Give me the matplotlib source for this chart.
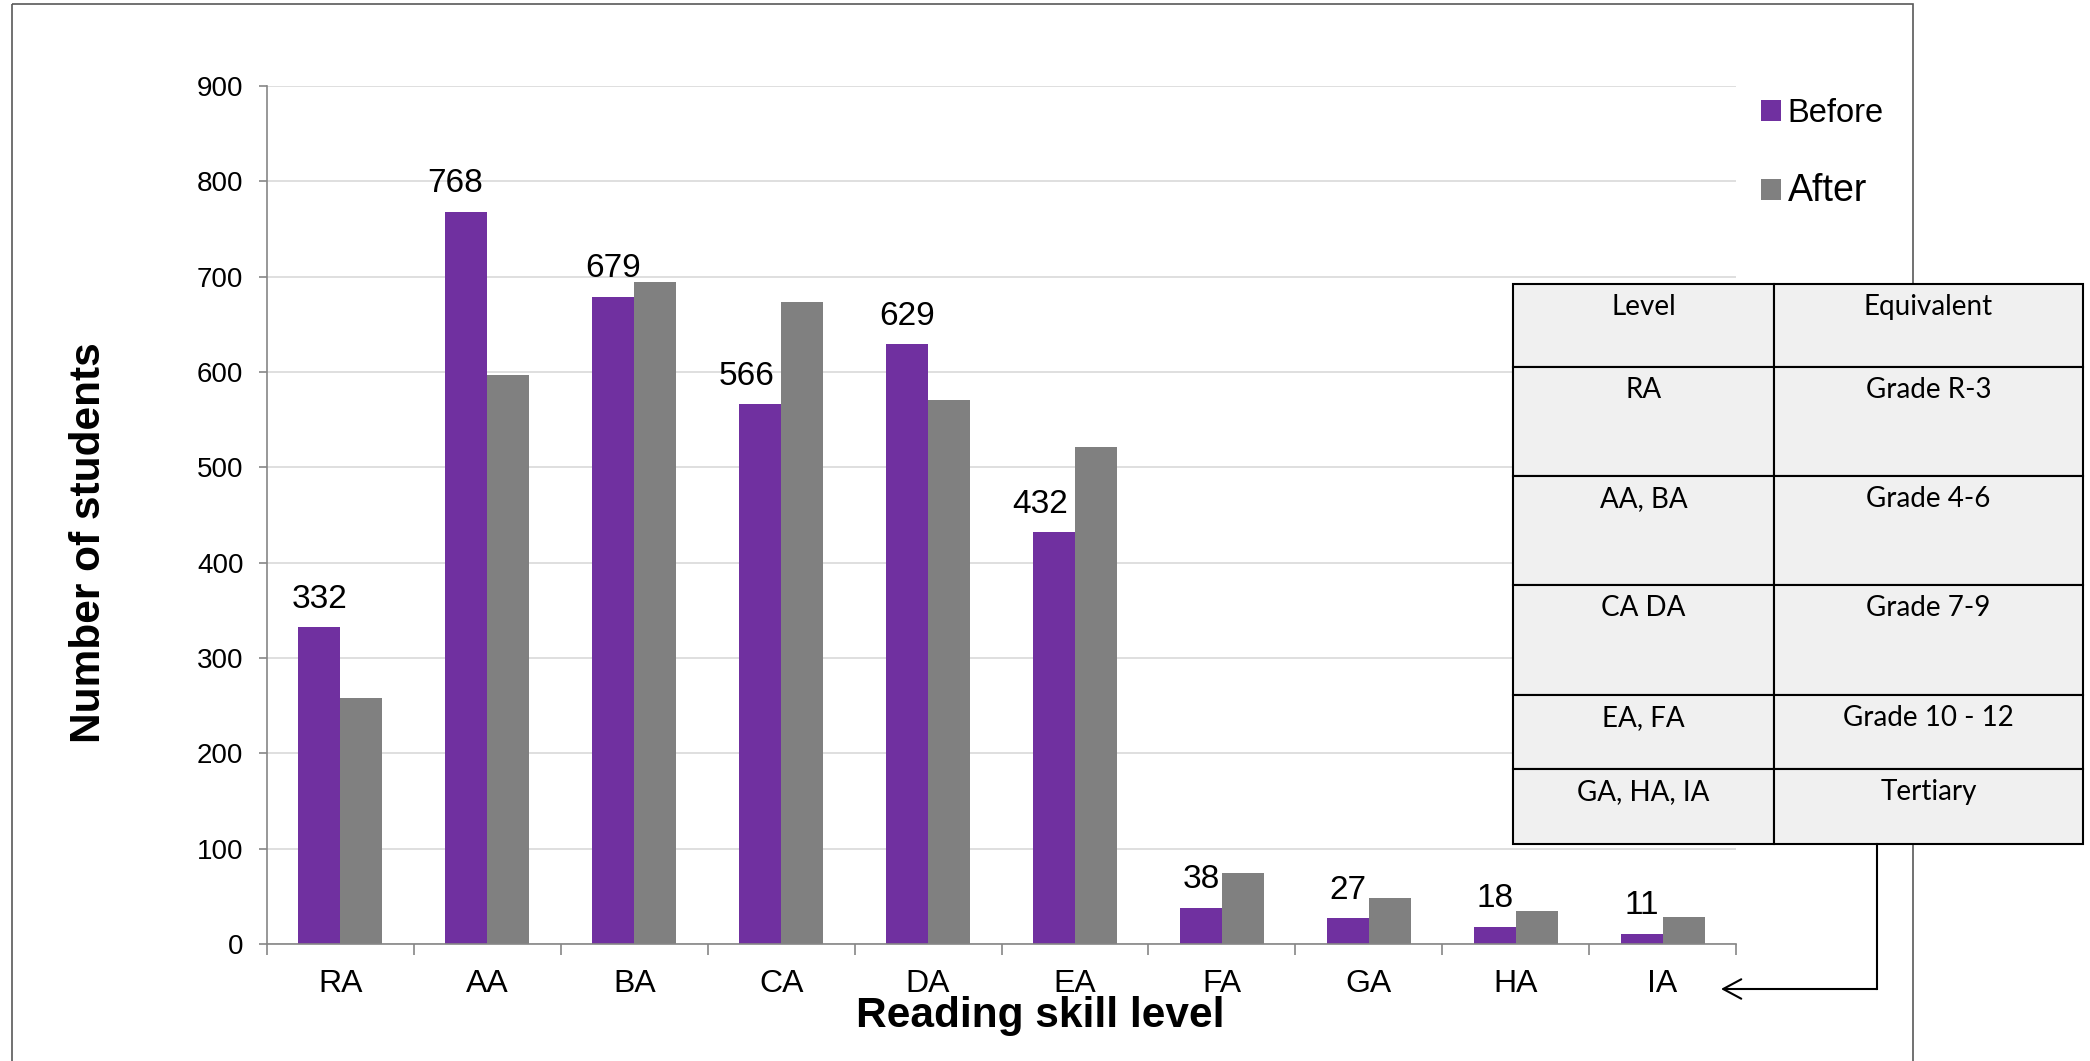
import numpy as np
import matplotlib
matplotlib.use('Agg')
import matplotlib.pyplot as plt
from matplotlib.patches import Rectangle, FancyArrowPatch
from matplotlib.lines import Line2D
from matplotlib.transforms import Affine2D

# data
levels = ['RA', 'AA', 'BA', 'CA', 'DA', 'EA', 'FA', 'GA', 'HA', 'IA']
before = [332, 768, 679, 566, 629, 432, 38, 27, 18, 11]
after = [258, 597, 694, 673, 571, 521, 74, 48, 35, 28]

# side table
table_level = ['Level', 'RA', 'AA, BA', 'CA DA', 'EA, FA', 'GA, HA, IA']
table_equiv = ['Equivalent', 'Grade R-3', 'Grade 4-6', 'Grade 7-9', 'Grade 10 - 12', 'Tertiary']

# a few value labels sit a little left of their bar (points)
label_nudge = {'AA': -8, 'CA': -10, 'EA': -10}

W, H = 2090, 1061
plt.rcParams['font.family'] = ['Liberation Sans', 'DejaVu Sans']

fig = plt.figure(figsize=(W / 100, H / 100), dpi=100)
# pixel coordinates, origin at the top left
px = Affine2D().scale(1 / W, -1 / H).translate(0, 1) + fig.transFigure

ax = fig.add_axes([267 / W, 1 - 944 / H, (1736 - 267) / W, (944 - 86) / H])
x = np.arange(len(levels))
w = 0.2857
b1 = ax.bar(x - w / 2, before, w, color='#7030A0', label='Before', zorder=2)
b2 = ax.bar(x + w / 2, after, w, color='#808080', label='After', zorder=2)

for rect, v, lv in zip(b1, before, levels):
    ax.annotate(str(v), (rect.get_x() + rect.get_width() / 2, v),
                xytext=(label_nudge.get(lv, 0), 14), textcoords='offset points',
                ha='center', va='baseline', fontsize=24)

ax.set_xlim(-0.5, len(levels) - 0.5)
ax.set_ylim(0, 900)
ax.set_yticks(range(0, 901, 100))
ax.set_xticks(x)
ax.set_xticklabels(levels)
ax.set_xticks(np.arange(-0.5, len(levels)), minor=True)
ax.tick_params(axis='x', which='major', length=0, pad=18, labelsize=23)
ax.tick_params(axis='x', which='minor', length=8, width=1.2, color='#868686')
ax.tick_params(axis='y', length=6, width=1.2, color='#868686', pad=11, labelsize=20)
ax.grid(axis='y', color='#D9D9D9', linewidth=1.2)
ax.set_axisbelow(True)
for s in ['top', 'right']:
    ax.spines[s].set_visible(False)
for s in ['left', 'bottom']:
    ax.spines[s].set_color('#868686')
    ax.spines[s].set_linewidth(1.2)

ax.set_xlabel('Reading skill level', fontsize=30.5, fontweight='bold', va='baseline')
ax.xaxis.set_label_coords((1040 - 267) / 1469, (944 - 1027) / 858)
ax.set_ylabel('Number of students', fontsize=30.5, fontweight='bold', va='baseline')
ax.yaxis.set_label_coords((100 - 267) / 1469, (944 - 543) / 858)

leg = ax.legend(loc='upper left', bbox_to_anchor=(1761, 98), bbox_transform=px,
                frameon=False, fontsize=23.5, handlelength=0.6, handleheight=0.6,
                handletextpad=0.22, labelspacing=1.35, borderpad=0, borderaxespad=0)
leg.get_texts()[1].set_fontsize(27)

# outer frame
fig.add_artist(Rectangle((12, 4), 1913 - 12, 1200, transform=px, fill=False,
                         edgecolor='#595959', linewidth=1.2, zorder=0.5))

# table
cols = [1513, 1774, 2083]
rows = [284, 367, 476, 585, 695, 769, 844]
for i in range(len(table_level)):
    for j, txt in enumerate([table_level[i], table_equiv[i]]):
        fig.add_artist(Rectangle((cols[j], rows[i]), cols[j + 1] - cols[j], rows[i + 1] - rows[i],
                                 transform=px, facecolor='#F0F0F0', edgecolor='black',
                                 linewidth=1.5, zorder=2))
        fig.text((cols[j] + cols[j + 1]) / 2, rows[i] + 31, txt, transform=px,
                 ha='center', va='baseline', fontsize=20, family='Lato', zorder=3)

# connector arrow from table to the axis
fig.add_artist(Line2D([1877, 1877], [844, 989], transform=px, color='black', lw=1.5, zorder=2))
fig.add_artist(FancyArrowPatch((1877, 989), (1721, 989), transform=px,
                               arrowstyle='->,head_length=13,head_width=7', color='black',
                               lw=1.5, mutation_scale=1, shrinkA=0, shrinkB=0, zorder=2))

fig.savefig('out.png', dpi=100)
